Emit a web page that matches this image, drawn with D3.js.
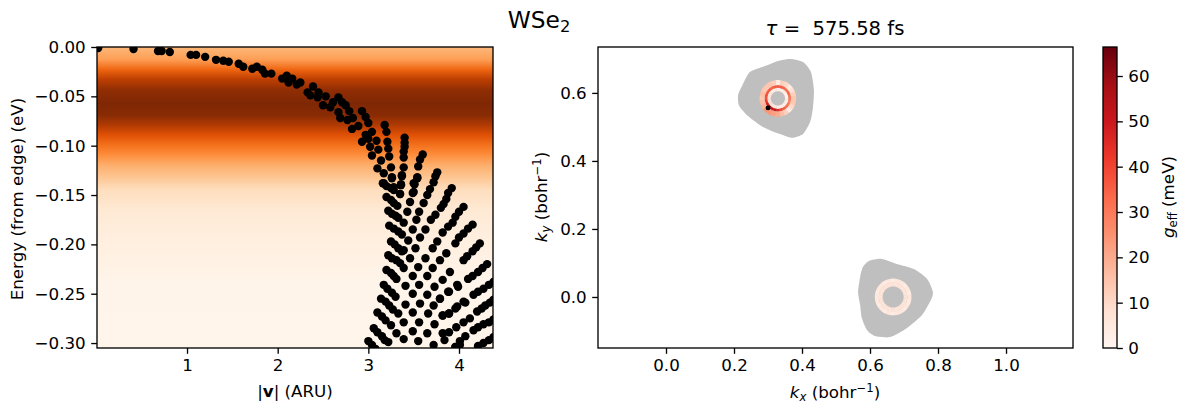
<!DOCTYPE html>
<html><head><meta charset="utf-8">
<script src="https://cdn.jsdelivr.net/npm/d3@7"></script>
<style>
html,body{margin:0;padding:0;background:#fff}
svg{display:block}
text{font-family:"DejaVu Sans",sans-serif;fill:#000}
.tick text{font-size:16.7px}
.tick line,.domain{stroke:#000;stroke-width:1.33px}
</style></head><body><svg id="c" width="1180" height="404"></svg>
<script>
const curvePoints=[[0.02,-0.001],[0.41,-0.002],[0.68,-0.004],[0.72,-0.004],[0.81,-0.005],[1.04,-0.008],[1.10,-0.008],[1.20,-0.010],[1.32,-0.013],[1.40,-0.014],[1.46,-0.015],[1.57,-0.017],[1.62,-0.020],[1.72,-0.022],[1.77,-0.020],[1.83,-0.023],[1.86,-0.027],[1.93,-0.027],[2.05,-0.032],[2.10,-0.029],[2.16,-0.032],[2.12,-0.036],[2.21,-0.038],[2.25,-0.036],[2.33,-0.046],[2.39,-0.040],[2.36,-0.049],[2.44,-0.051],[2.45,-0.046],[2.53,-0.050],[2.50,-0.059],[2.58,-0.061],[2.61,-0.056],[2.67,-0.051],[2.71,-0.056],[2.75,-0.059],[2.79,-0.065],[2.67,-0.066],[2.69,-0.072],[2.77,-0.074],[2.83,-0.072],[2.82,-0.083],[2.89,-0.080]];
const nearEdgeRays=[[2.93,-0.065],[2.97,-0.071],[3.00,-0.077],[3.04,-0.086],[2.97,-0.089],[2.93,-0.096],[3.02,-0.101],[3.00,-0.093],[3.09,-0.095],[3.11,-0.104],[3.04,-0.110],[3.14,-0.115],[3.10,-0.123],[3.17,-0.128],[3.17,-0.138],
[3.18,-0.079],[3.20,-0.086],[3.21,-0.096],[3.22,-0.103],[3.23,-0.111],[3.25,-0.122],[3.26,-0.132],[3.28,-0.142],
[3.40,-0.092],[3.40,-0.097],[3.40,-0.101],[3.39,-0.106],[3.39,-0.112],[3.39,-0.122],[3.37,-0.130],[3.36,-0.139],[3.35,-0.149],
[3.60,-0.109],[3.57,-0.114],[3.55,-0.121],[3.54,-0.132],[3.51,-0.139],[3.49,-0.148]];
const fallingStrokes=[[3.16,-0.138],[3.20,-0.141],[3.25,-0.143],[3.28,-0.145],
[3.20,-0.152],[3.25,-0.155],[3.28,-0.158],[3.32,-0.161],
[3.22,-0.166],[3.26,-0.169],[3.30,-0.171],[3.33,-0.173],
[3.23,-0.181],[3.28,-0.184],[3.33,-0.187],[3.37,-0.190],
[3.25,-0.197],[3.29,-0.200],[3.33,-0.204],[3.37,-0.207],
[3.22,-0.211],[3.26,-0.214],[3.31,-0.216],[3.35,-0.219],
[3.20,-0.226],[3.25,-0.229],[3.28,-0.232],[3.31,-0.235],
[3.17,-0.241],[3.21,-0.245],[3.26,-0.249],[3.30,-0.253],
[3.14,-0.255],[3.19,-0.258],[3.23,-0.262],[3.27,-0.266],
[3.10,-0.269],[3.15,-0.273],[3.19,-0.277],[3.25,-0.282],
[3.06,-0.285],[3.10,-0.289],[3.15,-0.293],[3.18,-0.297],
[3.00,-0.298],[3.04,-0.302],[3.08,-0.306]];
const risingRays=[[3.76,-0.127],[3.74,-0.131],[3.72,-0.137],[3.68,-0.144],[3.65,-0.150],[3.61,-0.158],[3.56,-0.167],[3.53,-0.175],[3.49,-0.185],[3.44,-0.196],[3.39,-0.206],
[3.92,-0.143],[3.88,-0.148],[3.86,-0.154],[3.83,-0.159],[3.80,-0.163],[3.74,-0.170],[3.69,-0.175],[3.63,-0.185],[3.57,-0.193],[3.52,-0.204],[3.46,-0.214],
[4.05,-0.162],[4.00,-0.167],[3.96,-0.172],[3.93,-0.178],[3.88,-0.182],[3.82,-0.188],[3.76,-0.197],[3.71,-0.204],[3.63,-0.214],
[4.15,-0.180],[4.10,-0.184],[4.05,-0.189],[4.00,-0.193],[3.96,-0.199],[3.86,-0.209],[3.79,-0.216],
[4.23,-0.199],[4.19,-0.203],[4.15,-0.207],[4.09,-0.212],[4.05,-0.216],
[4.31,-0.220],[4.26,-0.224],[4.21,-0.228],[4.15,-0.232],[4.10,-0.235],[3.99,-0.243],[3.89,-0.248],[3.79,-0.255],
[4.38,-0.238],[4.33,-0.241],[4.27,-0.245],[4.21,-0.248],[4.16,-0.251],[4.07,-0.259],[3.98,-0.263],[3.89,-0.270],[3.82,-0.272],
[4.38,-0.256],[4.34,-0.259],[4.29,-0.262],[4.25,-0.265],[4.20,-0.268],[4.12,-0.275],[4.05,-0.279],[3.97,-0.284],
[4.38,-0.276],[4.33,-0.279],[4.27,-0.281],[4.21,-0.284],[4.16,-0.287],[4.07,-0.293],[4.01,-0.298],[3.96,-0.304],
[4.38,-0.294],[4.33,-0.297],[4.27,-0.300],[4.21,-0.303]];
const latticePoints=[[3.26,-0.133],[3.37,-0.131],[3.54,-0.133],[3.36,-0.140],[3.50,-0.138],[3.35,-0.149],[3.50,-0.147],[3.46,-0.157],[3.43,-0.167],[3.39,-0.178],[3.71,-0.224],[3.39,-0.224],[3.84,-0.297],
[3.55,-0.223],[3.49,-0.232],[3.65,-0.232],[3.90,-0.228],[3.82,-0.236],[3.73,-0.243],[3.56,-0.241],[3.41,-0.242],[3.98,-0.241],[3.88,-0.248],[3.79,-0.255],[3.65,-0.251],[3.49,-0.250],[3.57,-0.260],[3.72,-0.262],[3.41,-0.261],[4.05,-0.258],[3.96,-0.265],[3.89,-0.270],[3.82,-0.272],[3.66,-0.270],[3.49,-0.269],[3.33,-0.270],[3.73,-0.281],[3.56,-0.279],[3.39,-0.279],[3.89,-0.289],[3.82,-0.290],[3.65,-0.290],[3.49,-0.288],[3.31,-0.290],[3.55,-0.298],[3.39,-0.296],[3.72,-0.302],[3.22,-0.299],[3.96,-0.304],[4.01,-0.302]];
const heatEnergy=[0,-0.013,-0.023,-0.033,-0.044,-0.057,-0.069,-0.079,-0.089,-0.099,-0.109,-0.120,-0.130,-0.145,-0.165,-0.196,-0.236,-0.305];
const heatLevel=[0.34,0.44,0.64,0.82,0.95,1.0,0.97,0.85,0.72,0.6,0.5,0.37,0.3,0.17,0.1,0.05,0.01,0];
const orangesStops=["#fff5eb","#fee6ce","#fdd0a2","#fdae6b","#fd8d3c","#f16913","#d94801","#a63603","#7f2704"];
const redsStops=["#fff5f0","#fee0d2","#fcbba1","#fc9272","#fb6a4a","#ef3b2c","#cb181d","#a50f15","#67000d"];
const pocketA=[[.365,.700],[.403,.691],[.426,.662],[.435,.609],[.432,.556],[.424,.515],[.403,.479],[.371,.468],[.335,.479],[.285,.500],[.241,.532],[.215,.562],[.212,.594],[.224,.621],[.247,.662],[.291,.679],[.329,.694]];
const pocketB=[[.597,.106],[.635,.112],[.679,.097],[.729,.082],[.768,.053],[.785,.015],[.779,-.009],[.753,-.053],[.709,-.091],[.659,-.118],[.615,-.115],[.591,-.097],[.576,-.062],[.571,-.024],[.565,.015],[.571,.059],[.579,.088]];
const ringCentres=[[.329,.584],[.668,0]];
const ringSectorDeg=[0,15,30,45,60,75,90,105,120,135,150,165,180,195,210,225,240,255,270,285,300,315,330,345];
const ringA=[
 {inner:.021,outer:.031,g:[2,2,2,3,2,3,3,4,3,4,4,5,5,6,7,7,6,5,4,3,3,2,3,2]},
 {inner:.031,outer:.039,g:[30,32,34,32,34,36,36,36,34,36,36,38,38,42,48,56,52,50,46,40,36,32,30,28]},
 {inner:.039,outer:.054,g:[14,12,8,4,10,12,3,12,14,14,14,16,14,16,18,24,24,22,20,16,12,4,10,14]}];
const ringB=[
 {inner:.031,outer:.042,g:[7,6,7,6,7,6,7,6,7,7,6,7,6,7,6,7,7,6,7,6,7,7,6,7]},
 {inner:.042,outer:.054,g:[5,4,5,4,5,5,4,5,4,5,5,4,5,5,4,5,4,5,4,5,5,4,5,4]}];
const peakPoint=[.300,.556];
const vTicks=[1,2,3,4], eTicks=[0,-0.05,-0.10,-0.15,-0.20,-0.25,-0.30];
const kxTicks=[0,0.2,0.4,0.6,0.8,1.0], kyTicks=[0,0.2,0.4,0.6], gTicks=[0,10,20,30,40,50,60];

const svg=d3.select("#c");
const defs=svg.append("defs");
const L={x0:97,x1:493,y0:47,y1:348}, R={x0:598,x1:1073,y0:47,y1:348}, C={x0:1103,x1:1117,y0:47,y1:348};
const xV=d3.scaleLinear([0.007,4.375],[L.x0,L.x1]);
const yE=d3.scaleLinear([-0.305,0],[L.y1,L.y0]);
const xK=d3.scaleLinear([-0.2,1.197],[R.x0,R.x1]);
const yK=d3.scaleLinear([-0.15,0.735],[R.y1,R.y0]);
const gMax=66.4;
const yG=d3.scaleLinear([0,gMax],[C.y1,C.y0]);
const oranges=d3.scaleLinear(orangesStops.map((_,i)=>i/8),orangesStops);
const reds=d3.scaleLinear(redsStops.map((_,i)=>i/8),redsStops);
const gColor=g=>reds(g/gMax);
const TICK=5.8, PAD=5.5;

// left panel
defs.append("clipPath").attr("id","cl").append("rect").attr("x",L.x0).attr("y",L.y0).attr("width",L.x1-L.x0).attr("height",L.y1-L.y0);
const grad=defs.append("linearGradient").attr("id","heat").attr("x1",0).attr("x2",0).attr("y1",0).attr("y2",1);
heatEnergy.forEach((e,i)=>grad.append("stop").attr("offset",(yE(e)-L.y0)/(L.y1-L.y0)).attr("stop-color",oranges(heatLevel[i])));
svg.append("rect").attr("x",L.x0).attr("y",L.y0).attr("width",L.x1-L.x0).attr("height",L.y1-L.y0).attr("fill","url(#heat)");
const allBand=[...curvePoints,...nearEdgeRays,...fallingStrokes,...risingRays,...latticePoints];
svg.append("g").attr("clip-path","url(#cl)").selectAll("circle").data(allBand).join("circle")
 .attr("cx",d=>xV(d[0])).attr("cy",d=>yE(d[1])).attr("r",4.2).attr("fill","#000");

function frame(b){svg.append("rect").attr("x",b.x0).attr("y",b.y0).attr("width",b.x1-b.x0).attr("height",b.y1-b.y0).attr("fill","none").attr("stroke","#000").attr("stroke-width",1.33);}
function axes(b,xs,ys,xt,yt,xf,yf){
 const a=svg.append("g").attr("transform",`translate(0,${b.y1})`).call(d3.axisBottom(xs).tickValues(xt).tickFormat(xf).tickSize(TICK).tickPadding(PAD));a.select(".domain").remove();
 const g=svg.append("g").attr("transform",`translate(${b.x0},0)`).call(d3.axisLeft(ys).tickValues(yt).tickFormat(yf).tickSize(TICK).tickPadding(PAD));g.select(".domain").remove();
 frame(b);
}
const minus=f=>v=>f(v).replace("-","\u2212");
axes(L,xV,yE,vTicks,eTicks,d3.format("d"),minus(d3.format(".2f")));

// right panel
const line=d3.line(d=>xK(d[0]),d=>yK(d[1])).curve(d3.curveCardinalClosed.tension(0.3));
svg.append("g").selectAll("path").data([pocketA,pocketB]).join("path").attr("d",line).attr("fill","#bfbfbf");
const arc=d3.arc();
const pxPerK=xK(1)-xK(0);
function drawRing(centre,layers){
 const g=svg.append("g").attr("transform",`translate(${xK(centre[0])},${yK(centre[1])})`);
 layers.forEach(l=>ringSectorDeg.forEach((deg,i)=>{
  const mid=(90-deg)*Math.PI/180, half=8*Math.PI/180;
  g.append("path").attr("d",arc({innerRadius:l.inner*pxPerK,outerRadius:l.outer*pxPerK,startAngle:mid-half,endAngle:mid+half})).attr("fill",gColor(l.g[i]));
 }));
}
drawRing(ringCentres[0],ringA);
drawRing(ringCentres[1],ringB);
svg.append("circle").attr("cx",xK(peakPoint[0])).attr("cy",yK(peakPoint[1])).attr("r",2.4).attr("fill","#000");
axes(R,xK,yK,kxTicks,kyTicks,d3.format(".1f"),d3.format(".1f"));

// colorbar
const cg=defs.append("linearGradient").attr("id","cb").attr("x1",0).attr("x2",0).attr("y1",1).attr("y2",0);
redsStops.forEach((c,i)=>cg.append("stop").attr("offset",i/8).attr("stop-color",c));
svg.append("rect").attr("x",C.x0).attr("y",C.y0).attr("width",C.x1-C.x0).attr("height",C.y1-C.y0).attr("fill","url(#cb)");
svg.append("g").attr("transform",`translate(${C.x1},0)`).call(d3.axisRight(yG).tickValues(gTicks).tickFormat(d3.format("d")).tickSize(TICK).tickPadding(PAD)).select(".domain").remove();
frame(C);

// texts
function label(x,y,parts,size,rot){
 const t=svg.append("text").attr("text-anchor","middle").attr("font-size",size)
  .attr("transform",`translate(${x},${y})`+(rot?` rotate(${rot})`:""));
 parts.forEach(p=>{const s=t.append("tspan").text(p.t);
  if(p.i)s.attr("font-style","italic"); if(p.b)s.attr("font-weight","bold");
  if(p.sub){s.attr("font-size",size*0.7).attr("dy",size*0.15);}
  if(p.sup){s.attr("font-size",size*0.7).attr("dy",-size*0.36);}
  if(p.back)s.attr("dy",p.back);});
}
label(539,28,[{t:"WSe"},{t:"2",sub:1}],23.3);
label(835,35,[{t:"\u03c4",i:1},{t:"\u00a0=\u00a0\u00a0575.58 fs"}],19.6);
label(295,397,[{t:"|"},{t:"v",b:1},{t:"| (ARU)"}],16.7);
label(835,398,[{t:"k",i:1},{t:"x",i:1,sub:1},{t:" (bohr",back:-2.5},{t:"\u22121",sup:1},{t:")",back:6}],16.7);
label(23,199,[{t:"Energy (from edge) (eV)"}],16.7,-90);
label(547,197,[{t:"k",i:1},{t:"y",i:1,sub:1},{t:" (bohr",back:-2.5},{t:"\u22121",sup:1},{t:")",back:6}],16.7,-90);
label(1174,197,[{t:"g",i:1},{t:"eff",sub:1},{t:" (meV)",back:-2.5}],16.7,-90);
</script></body></html>
